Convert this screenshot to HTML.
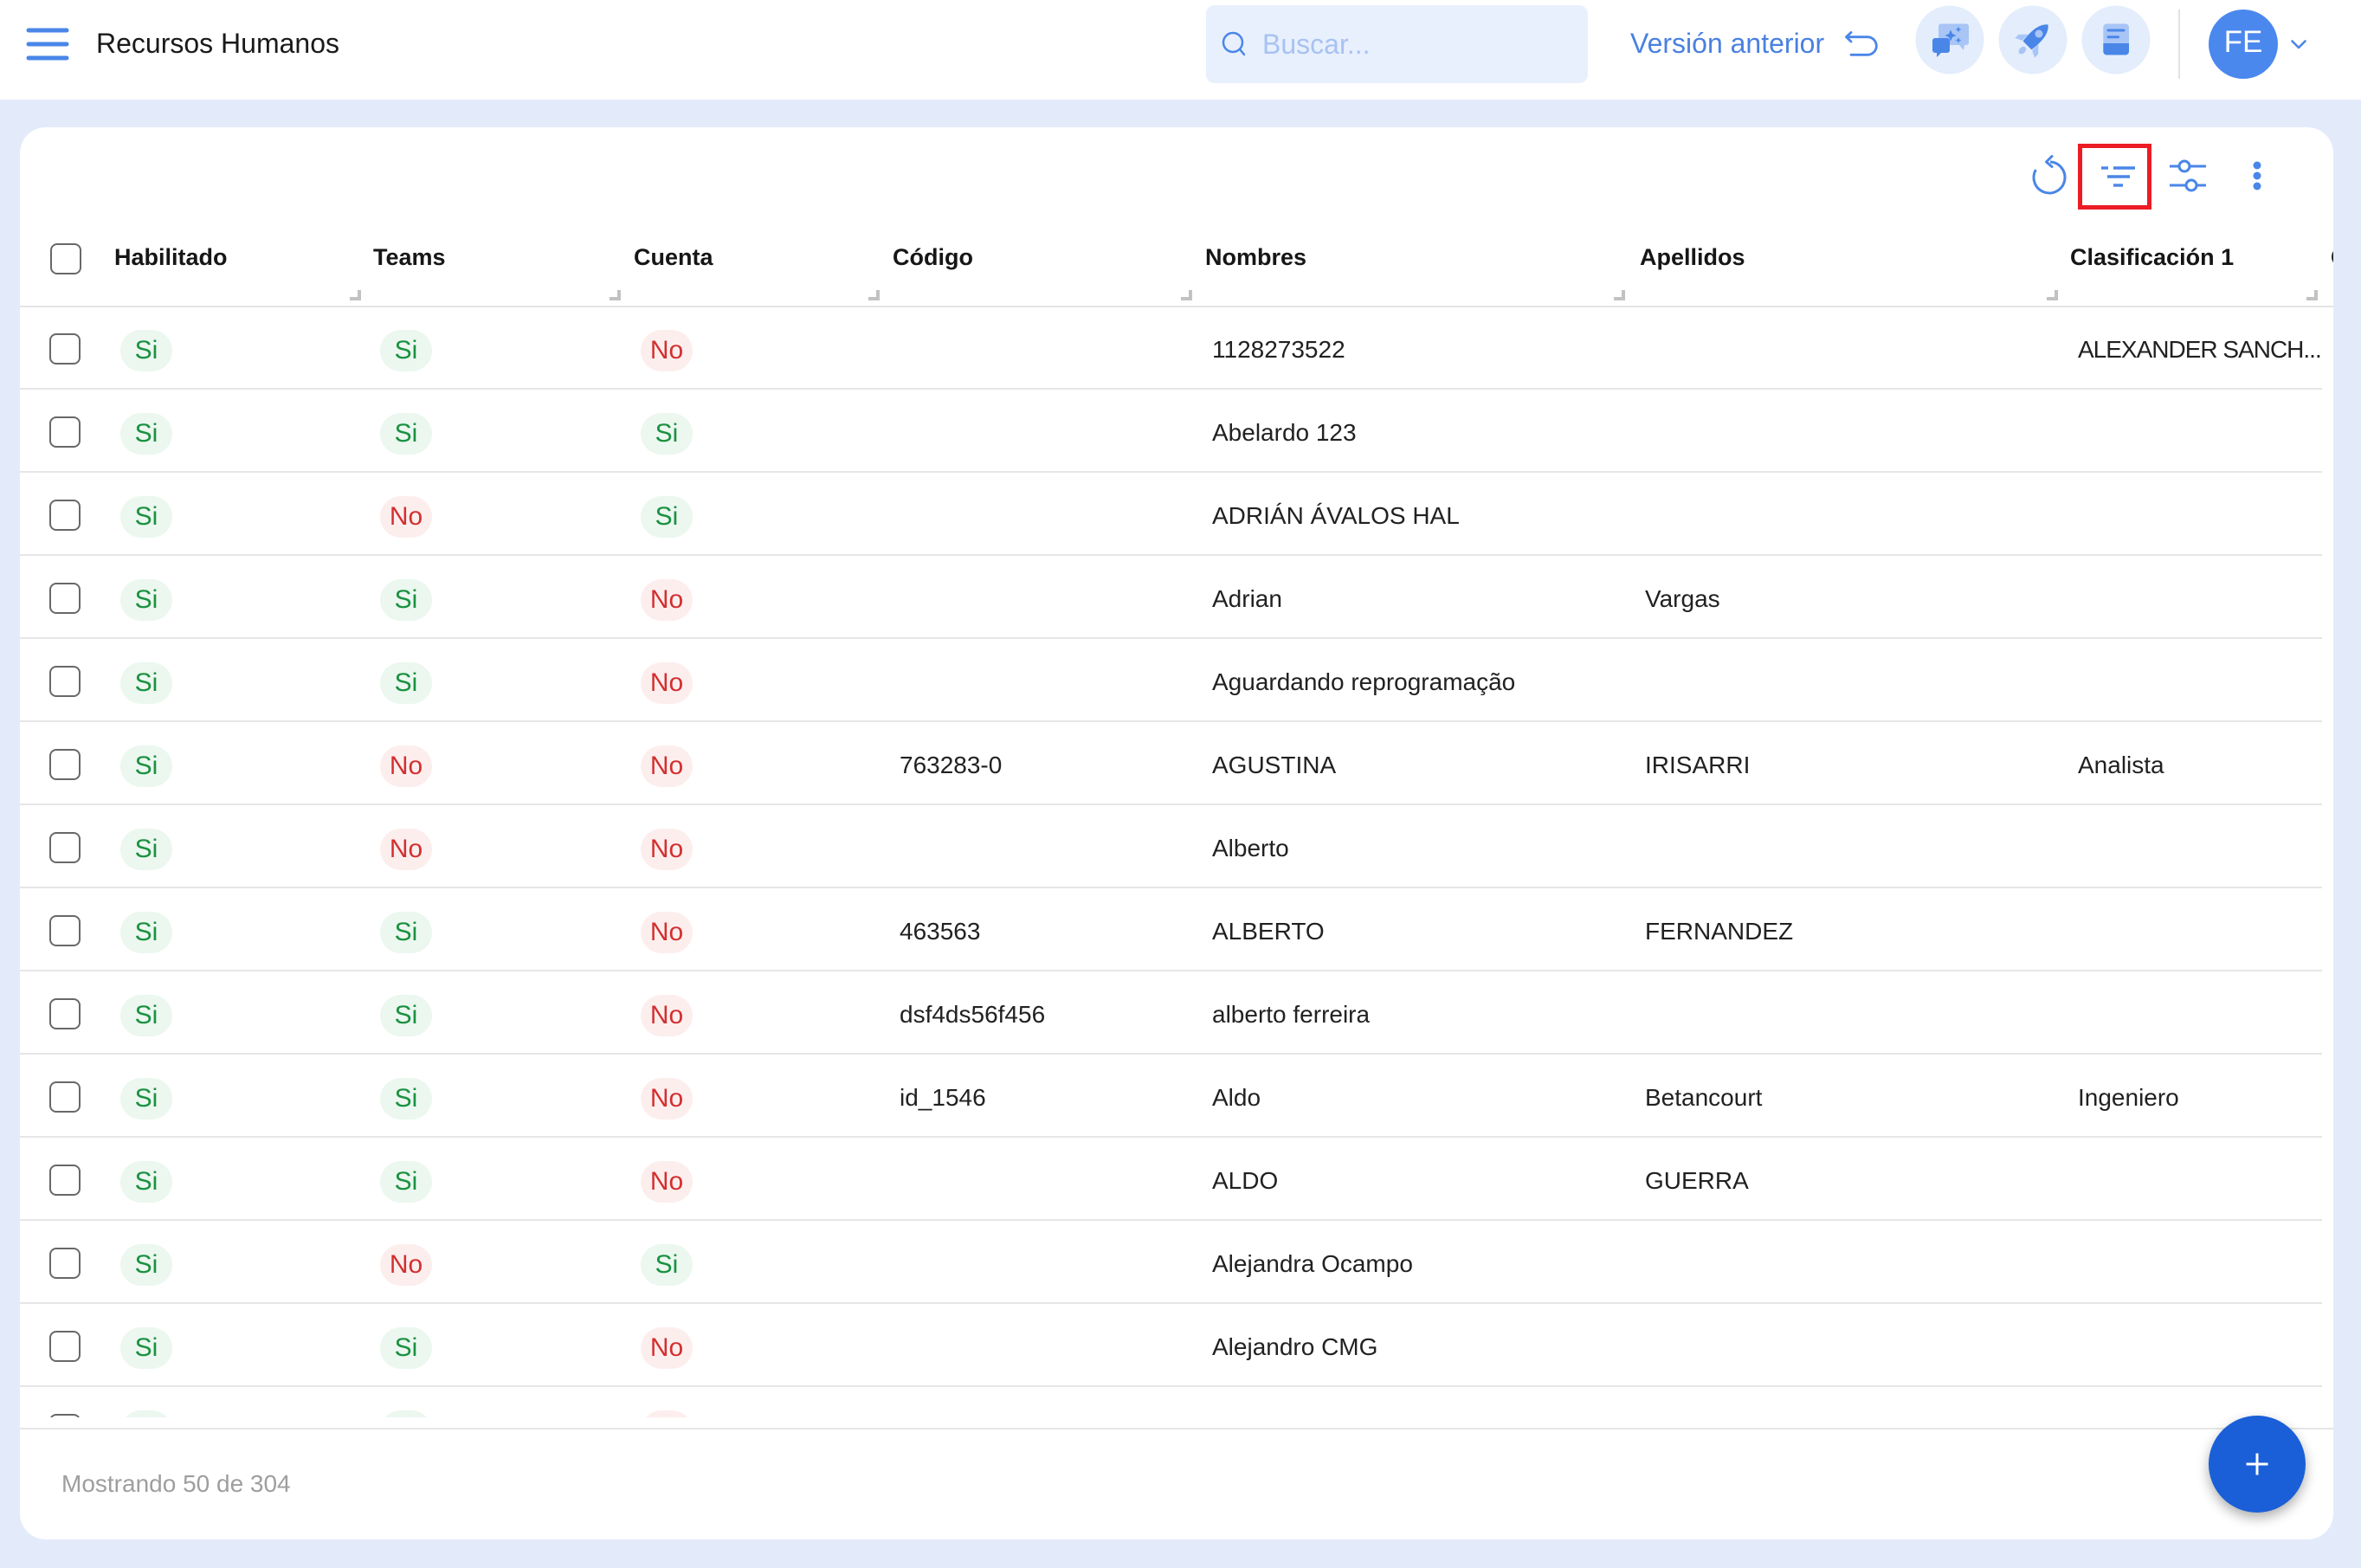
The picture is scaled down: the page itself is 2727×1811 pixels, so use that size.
<!DOCTYPE html>
<html><head><meta charset="utf-8">
<style>
*{margin:0;padding:0;box-sizing:border-box}
html,body{width:2727px;height:1811px;overflow:hidden;background:#e3ebfb;font-family:"Liberation Sans",Arial,sans-serif;position:relative}
.a{position:absolute;white-space:nowrap}
#hdr{position:absolute;left:0;top:0;width:2727px;height:115px;background:#fff}
#card{position:absolute;left:23px;top:147px;width:2672px;height:1631px;background:#fff;border-radius:30px}
#th{position:absolute;left:23px;top:260px;width:2672px;height:93px;overflow:hidden}
.h{position:absolute;top:17px;font-size:27px;line-height:40px;font-weight:bold;color:#161616;white-space:nowrap}
#tb{position:absolute;left:23px;top:354px;width:2659px;height:1283px;overflow:hidden}
.r{position:absolute;left:0;width:2659px;height:96px;border-bottom:2px solid #e6e6e6}
.cb{position:absolute;left:34px;top:31px;width:36px;height:36px;border:2px solid #686868;border-radius:8px;background:#fff}
.p{position:absolute;top:27px;width:60px;height:48px;border-radius:24px;font-size:30px;line-height:48px;text-align:center}
.p1{left:116px}.p2{left:416px}.p3{left:717px}
.s{background:#ebf7ef;color:#1a9140}
.n{background:#fdeeee;color:#d32f2f}
.c{position:absolute;top:0;font-size:28px;line-height:100px;color:#212121;white-space:nowrap}
.c4{left:1016px}.c5{left:1377px}.c6{left:1877px}.c7{left:2377px;width:282px;overflow:hidden}
.tight{letter-spacing:-1px}
svg{position:absolute;left:0;top:0}
</style></head><body>
<div id="hdr"></div>
<div class="a" style="left:111px;top:30px;font-size:32px;line-height:40px;color:#1a1a1a">Recursos Humanos</div>
<div class="a" style="left:1393px;top:6px;width:441px;height:90px;background:#e8f0fd;border-radius:10px"></div>
<div class="a" style="left:1458px;top:31px;font-size:32px;line-height:40px;color:#a7c2f2">Buscar...</div>
<div class="a" style="left:1883px;top:30px;font-size:32px;line-height:40px;color:#4a80e0">Versión anterior</div>
<div class="a" style="left:2551px;top:11px;width:80px;height:80px;border-radius:50%;background:#4a88ee;color:#fff;font-size:35px;line-height:76px;text-align:center">FE</div>

<div id="card"></div>

<div class="a" style="left:58px;top:281px;width:36px;height:36px;border:2px solid #686868;border-radius:8px"></div>
<div id="th">
<div class="h" style="left:109px">Habilitado</div>
<div class="h" style="left:408px">Teams</div>
<div class="h" style="left:709px">Cuenta</div>
<div class="h" style="left:1008px">Código</div>
<div class="h" style="left:1369px">Nombres</div>
<div class="h" style="left:1871px">Apellidos</div>
<div class="h" style="left:2368px">Clasificación 1</div>
<div class="h" style="left:2669px">Clasificación 2</div>
</div>
<div class="a" style="left:23px;top:353px;width:2672px;height:2px;background:#e4e4e4"></div>

<div id="tb">
<div class="r" style="top:0"><div class="cb"></div><div class="p p1 s">Si</div><div class="p p2 s">Si</div><div class="p p3 n">No</div><div class="c c5">1128273522</div><div class="c c7 tight">ALEXANDER SANCH...</div></div>
<div class="r" style="top:96px"><div class="cb"></div><div class="p p1 s">Si</div><div class="p p2 s">Si</div><div class="p p3 s">Si</div><div class="c c5">Abelardo 123</div></div>
<div class="r" style="top:192px"><div class="cb"></div><div class="p p1 s">Si</div><div class="p p2 n">No</div><div class="p p3 s">Si</div><div class="c c5">ADRIÁN ÁVALOS HAL</div></div>
<div class="r" style="top:288px"><div class="cb"></div><div class="p p1 s">Si</div><div class="p p2 s">Si</div><div class="p p3 n">No</div><div class="c c5">Adrian</div><div class="c c6">Vargas</div></div>
<div class="r" style="top:384px"><div class="cb"></div><div class="p p1 s">Si</div><div class="p p2 s">Si</div><div class="p p3 n">No</div><div class="c c5">Aguardando reprogramação</div></div>
<div class="r" style="top:480px"><div class="cb"></div><div class="p p1 s">Si</div><div class="p p2 n">No</div><div class="p p3 n">No</div><div class="c c4">763283-0</div><div class="c c5">AGUSTINA</div><div class="c c6">IRISARRI</div><div class="c c7">Analista</div></div>
<div class="r" style="top:576px"><div class="cb"></div><div class="p p1 s">Si</div><div class="p p2 n">No</div><div class="p p3 n">No</div><div class="c c5">Alberto</div></div>
<div class="r" style="top:672px"><div class="cb"></div><div class="p p1 s">Si</div><div class="p p2 s">Si</div><div class="p p3 n">No</div><div class="c c4">463563</div><div class="c c5">ALBERTO</div><div class="c c6">FERNANDEZ</div></div>
<div class="r" style="top:768px"><div class="cb"></div><div class="p p1 s">Si</div><div class="p p2 s">Si</div><div class="p p3 n">No</div><div class="c c4">dsf4ds56f456</div><div class="c c5">alberto ferreira</div></div>
<div class="r" style="top:864px"><div class="cb"></div><div class="p p1 s">Si</div><div class="p p2 s">Si</div><div class="p p3 n">No</div><div class="c c4">id_1546</div><div class="c c5">Aldo</div><div class="c c6">Betancourt</div><div class="c c7">Ingeniero</div></div>
<div class="r" style="top:960px"><div class="cb"></div><div class="p p1 s">Si</div><div class="p p2 s">Si</div><div class="p p3 n">No</div><div class="c c5">ALDO</div><div class="c c6">GUERRA</div></div>
<div class="r" style="top:1056px"><div class="cb"></div><div class="p p1 s">Si</div><div class="p p2 n">No</div><div class="p p3 s">Si</div><div class="c c5">Alejandra Ocampo</div></div>
<div class="r" style="top:1152px"><div class="cb"></div><div class="p p1 s">Si</div><div class="p p2 s">Si</div><div class="p p3 n">No</div><div class="c c5">Alejandro CMG</div></div>
<div class="r" style="top:1248px"><div class="cb"></div><div class="p p1 s">Si</div><div class="p p2 s">Si</div><div class="p p3 n">No</div><div class="c c5">Alejandro</div></div>
</div>

<div class="a" style="left:23px;top:1649px;width:2672px;height:2px;background:#e6e6e6"></div>
<div class="a" style="left:71px;top:1694px;font-size:28px;line-height:40px;color:#9e9e9e">Mostrando 50 de 304</div>
<div class="a" style="left:2551px;top:1635px;width:112px;height:112px;border-radius:50%;background:#1a5fd8;box-shadow:0 6px 14px rgba(0,0,0,0.32)"></div>

<svg width="2727" height="1811" viewBox="0 0 2727 1811">
<g stroke="#4a86e8" stroke-width="5" stroke-linecap="round">
<line x1="33" y1="35" x2="77" y2="35"/><line x1="33" y1="51" x2="77" y2="51"/><line x1="33" y1="67" x2="77" y2="67"/>
</g>
<circle cx="1424" cy="49" r="11" fill="none" stroke="#4a86e8" stroke-width="2.5"/>
<line x1="1432" y1="57" x2="1437" y2="63" stroke="#4a86e8" stroke-width="2.5" stroke-linecap="round"/>
<path d="M2138 37.5 L2132.5 42.7 L2138 48 M2132.5 42.7 H2157 A10.3 10.3 0 0 1 2157 63.3 H2138" fill="none" stroke="#4a86e8" stroke-width="2.8" stroke-linecap="round" stroke-linejoin="round"/>
<circle cx="2252" cy="46" r="39.5" fill="#e3edfc"/>
<circle cx="2348" cy="46" r="39.5" fill="#e3edfc"/>
<circle cx="2444" cy="46" r="39.5" fill="#e3edfc"/>
<path d="M2242 27.5 H2271 A3 3 0 0 1 2274 30.5 V49 A3 3 0 0 1 2271 52 H2269 L2268 58 L2263 52 H2242 A3 3 0 0 1 2239 49 V30.5 A3 3 0 0 1 2242 27.5Z" fill="#a8c5f6"/>
<path d="M2235 44 H2249 A3 3 0 0 1 2252 47 V58 A3 3 0 0 1 2249 61 H2242 L2237 66 L2237 61 H2235 A3 3 0 0 1 2232 58 V47 A3 3 0 0 1 2235 44Z" fill="#4a86e8"/>
<path d="M2253 34.5 L2255 39 L2259.5 41 L2255 43 L2253 47.5 L2251 43 L2246.5 41 L2251 39Z" fill="#4a86e8"/>
<path d="M2262 30.5 L2263 33 L2265.5 34 L2263 35 L2262 37.5 L2261 35 L2258.5 34 L2261 33Z" fill="#4a86e8"/>
<path d="M2262 43 L2263 45.5 L2265.5 46.5 L2263 47.5 L2262 50 L2261 47.5 L2258.5 46.5 L2261 45.5Z" fill="#4a86e8"/>
<g transform="rotate(45 2350 44)">
<path d="M2342 46 L2334 54 L2334 60 L2342 56Z" fill="#a8c5f6"/>
<path d="M2358 46 L2366 54 L2366 60 L2358 56Z" fill="#a8c5f6"/>
<path d="M2350 22 C2360 30 2358 46 2357 56 H2343 C2342 46 2340 30 2350 22Z" fill="#4a86e8"/>
<circle cx="2350" cy="37" r="4.5" fill="#a8c5f6"/>
<ellipse cx="2350" cy="64" rx="3.5" ry="5" fill="#a8c5f6"/>
</g>
<path d="M2433 27.5 H2455 A4 4 0 0 1 2459 31.5 V50 H2429.3 V31.5 A4 4 0 0 1 2433 27.5Z" fill="#a8c5f6"/>
<path d="M2429.3 50 H2459 V59.5 A4 4 0 0 1 2455 63.5 H2433 A4 4 0 0 1 2429.3 59.5Z" fill="#4a86e8"/>
<line x1="2435" y1="35" x2="2453" y2="35" stroke="#4a86e8" stroke-width="3" stroke-linecap="round"/>
<line x1="2435" y1="42.7" x2="2446.5" y2="42.7" stroke="#4a86e8" stroke-width="3" stroke-linecap="round"/>
<rect x="2516" y="11" width="2" height="80" fill="#e2e2e2"/>
<polyline points="2647.5,47.5 2655,55 2662.5,47.5" fill="none" stroke="#4a86e8" stroke-width="2.6" stroke-linecap="round" stroke-linejoin="round"/>
<path d="M2368 187 A18 18 0 1 1 2351.4 196" fill="none" stroke="#4a86e8" stroke-width="3"/>
<polyline points="2370,180.5 2363.5,187 2370,192.5" fill="none" stroke="#4a86e8" stroke-width="3" stroke-linecap="round" stroke-linejoin="round"/>
<g stroke="#4a86e8" stroke-width="3.4">
<line x1="2427" y1="194" x2="2435" y2="194"/><line x1="2441" y1="194" x2="2466" y2="194"/>
<line x1="2434" y1="204" x2="2460" y2="204"/>
<line x1="2441" y1="214" x2="2452" y2="214"/>
</g>
<rect x="2402.5" y="168.5" width="80" height="71" fill="none" stroke="#ec1c24" stroke-width="5"/>
<g stroke="#4a86e8" stroke-width="3" fill="#fff">
<line x1="2506" y1="192" x2="2517" y2="192"/><line x1="2529" y1="192" x2="2548" y2="192"/>
<circle cx="2523" cy="192" r="6"/>
<line x1="2506" y1="214" x2="2525" y2="214"/><line x1="2537" y1="214" x2="2548" y2="214"/>
<circle cx="2531" cy="214" r="6"/>
</g>
<circle cx="2607" cy="191" r="4.5" fill="#4a86e8"/>
<circle cx="2607" cy="203" r="4.5" fill="#4a86e8"/>
<circle cx="2607" cy="215" r="4.5" fill="#4a86e8"/>
<g fill="#c2c2c2">
<rect x="413" y="335" width="4" height="12"/><rect x="404" y="343" width="13" height="4"/>
<rect x="713" y="335" width="4" height="12"/><rect x="704" y="343" width="13" height="4"/>
<rect x="1012" y="335" width="4" height="12"/><rect x="1003" y="343" width="13" height="4"/>
<rect x="1373" y="335" width="4" height="12"/><rect x="1364" y="343" width="13" height="4"/>
<rect x="1873" y="335" width="4" height="12"/><rect x="1864" y="343" width="13" height="4"/>
<rect x="2373" y="335" width="4" height="12"/><rect x="2364" y="343" width="13" height="4"/>
<rect x="2673" y="335" width="4" height="12"/><rect x="2664" y="343" width="13" height="4"/>
</g>
<rect x="2594.5" y="1689.5" width="25" height="3" fill="#fff"/>
<rect x="2605.5" y="1678.5" width="3" height="25" fill="#fff"/>
</svg>
</body></html>
